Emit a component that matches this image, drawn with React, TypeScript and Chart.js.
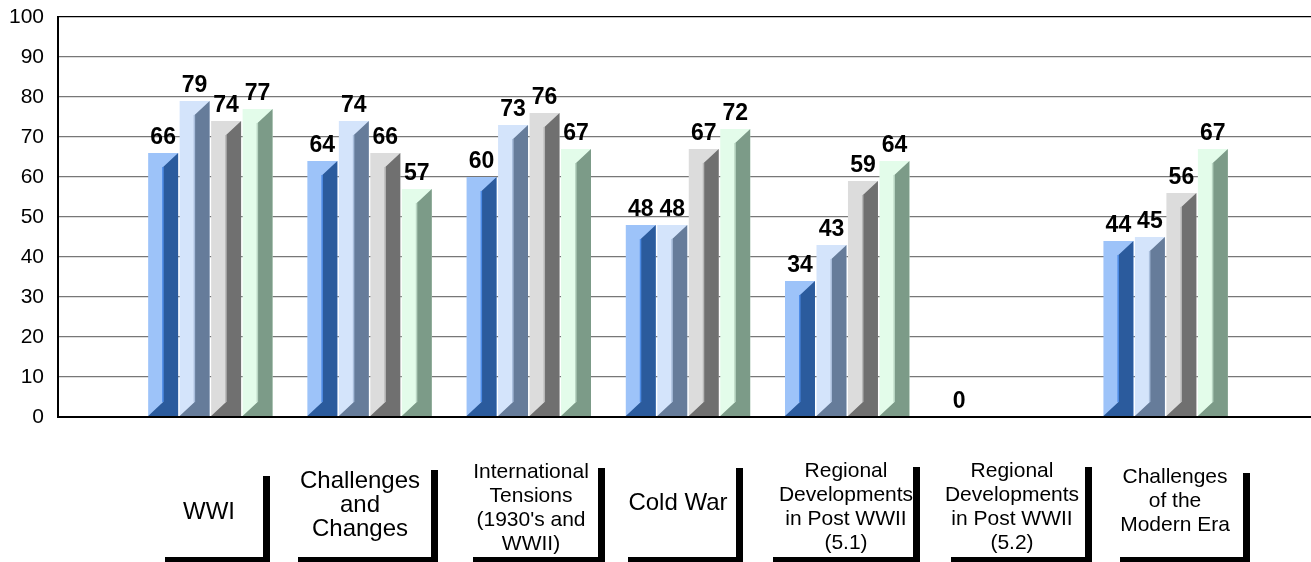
import React, { useEffect, useRef } from 'react';
import { Chart, registerables } from 'chart.js';
Chart.register(...registerables);

// ---- data ----
const categories: string[][] = [
  ['WWI'],
  ['Challenges', 'and', 'Changes'],
  ['International', 'Tensions', "(1930's and", 'WWII)'],
  ['Cold War'],
  ['Regional', 'Developments', 'in Post WWII', '(5.1)'],
  ['Regional', 'Developments', 'in Post WWII', '(5.2)'],
  ['Challenges', 'of the', 'Modern Era'],
];
const series1: (number | null)[] = [66, 64, 60, 48, 34, 0, 44];
const series2: (number | null)[] = [79, 74, 73, 48, 43, null, 45];
const series3: (number | null)[] = [74, 66, 76, 67, 59, null, 56];
const series4: (number | null)[] = [77, 57, 67, 72, 64, null, 67];
const yTickValues = [0, 10, 20, 30, 40, 50, 60, 70, 80, 90, 100];

// ---- styles / layout ----
const lightColors = ['#9DC3F9', '#D4E4FB', '#DCDCDC', '#E3FCEA'];
const darkColors = ['#2B5B9D', '#667C9A', '#707070', '#7C9B88'];
const edgeColors = ['#4C8BE6', '#A9BEDC', '#B8B8B8', '#B9D6C3'];
const labelFontSizes = [24, 24, 21, 24, 21, 21, 21];
const labelBoxes = [
  { l: 165, r: 270, top: 476, cx: 209, cy: 512 },
  { l: 298, r: 438, top: 470, cx: 360, cy: 505 },
  { l: 473, r: 605, top: 468, cx: 531, cy: 508 },
  { l: 628, r: 743, top: 468, cx: 678, cy: 503 },
  { l: 773, r: 920, top: 467, cx: 846, cy: 507 },
  { l: 951, r: 1092, top: 467, cx: 1012, cy: 507 },
  { l: 1120, r: 1250, top: 473, cx: 1175, cy: 501 },
];
const X_MIN = -0.957;
const X_MAX = 6.913;
const FONT = "'Liberation Sans', Arial, Helvetica, sans-serif";

const bar3dPlugin = {
  id: 'bar3d',
  afterDatasetsDraw(chart: any) {
    const ctx = chart.ctx;
    ctx.save();
    chart.data.datasets.forEach((ds: any, di: number) => {
      const meta = chart.getDatasetMeta(di);
      meta.data.forEach((el: any, i: number) => {
        const v = ds.data[i]?.y;
        if (v == null || v <= 0) return;
        const w = el.width;
        const L = el.x - w / 2;
        const R = el.x + w / 2;
        const M = el.x;
        const T = el.y;
        const B = el.base;
        const d = w / 2 - 1;
        ctx.fillStyle = darkColors[di];
        ctx.beginPath();
        ctx.moveTo(M, T + d);
        ctx.lineTo(R, T);
        ctx.lineTo(R, B);
        ctx.lineTo(L, B);
        ctx.lineTo(M, B - d);
        ctx.closePath();
        ctx.fill();
        ctx.fillStyle = edgeColors[di];
        ctx.fillRect(M - 1, T + d, 1.5, B - d - (T + d));
      });
    });
    ctx.restore();
  },
  afterDraw(chart: any) {
    const ctx = chart.ctx;
    ctx.save();
    // value labels
    ctx.fillStyle = '#000';
    ctx.font = `bold 23px ${FONT}`;
    ctx.textAlign = 'center';
    ctx.textBaseline = 'alphabetic';
    chart.data.datasets.forEach((ds: any, di: number) => {
      const meta = chart.getDatasetMeta(di);
      meta.data.forEach((el: any, i: number) => {
        const v = ds.data[i]?.y;
        if (v == null) return;
        ctx.fillText(String(v), el.x, el.y - 9);
      });
    });
    // category label boxes
    categories.forEach((lines, i) => {
      const b = labelBoxes[i];
      ctx.fillStyle = '#000';
      ctx.fillRect(b.l, 557, b.r - b.l, 5);
      ctx.fillRect(b.r - 7, b.top, 7, 562 - b.top);
      ctx.font = `${labelFontSizes[i]}px ${FONT}`;
      ctx.textBaseline = 'middle';
      const lh = 24;
      const start = b.cy - ((lines.length - 1) * lh) / 2;
      lines.forEach((t, k) => ctx.fillText(t, b.cx, start + k * lh));
    });
    ctx.restore();
  },
};

export default function App() {
  const ref = useRef<HTMLCanvasElement>(null);
  useEffect(() => {
    if (!ref.current) return;
    const all = [series1, series2, series3, series4];
    const chart = new Chart(ref.current, {
      type: 'bar',
      data: {
        datasets: all.map((s, di) => ({
          label: `Series ${di + 1}`,
          data: s.map((v, i) => ({ x: i, y: v })),
          backgroundColor: lightColors[di],
          borderWidth: 0,
          categoryPercentage: 0.791,
          barPercentage: 0.952,
        })),
      } as any,
      options: {
        responsive: false,
        animation: false,
        devicePixelRatio: 1,
        layout: { padding: { top: 17, right: 0, bottom: 145, left: 0 } },
        plugins: { legend: { display: false }, tooltip: { enabled: false } },
        scales: {
          x: {
            type: 'linear',
            display: false,
            min: X_MIN,
            max: X_MAX,
            offset: false,
            afterBuildTicks: (s: any) => {
              s.ticks = categories.map((_, i) => ({ value: i }));
            },
          },
          y: {
            min: 0,
            max: 100,
            afterBuildTicks: (s: any) => {
              s.ticks = yTickValues.map((v) => ({ value: v }));
            },
            afterFit: (s: any) => {
              s.width = 58;
              s.paddingTop = 0;
              s.paddingBottom = 0;
            },
            ticks: {
              color: '#000',
              font: { family: FONT, size: 21 },
              padding: 14,
            },
            grid: {
              drawTicks: false,
              color: (c: any) => (c.tick && (c.tick.value === 100 || c.tick.value === 0) ? '#000' : '#777'),
              lineWidth: (c: any) => (c.tick && c.tick.value === 0 ? 2 : 1.3),
            },
            border: { color: '#000', width: 2 },
          },
        },
      } as any,
      plugins: [bar3dPlugin],
    });
    return () => chart.destroy();
  }, []);
  return (
    <div style={{ position: 'absolute', left: 0, top: 0, width: 1311, height: 562, background: '#fff' }}>
      <canvas ref={ref} width={1311} height={562} style={{ display: 'block' }} />
    </div>
  );
}
